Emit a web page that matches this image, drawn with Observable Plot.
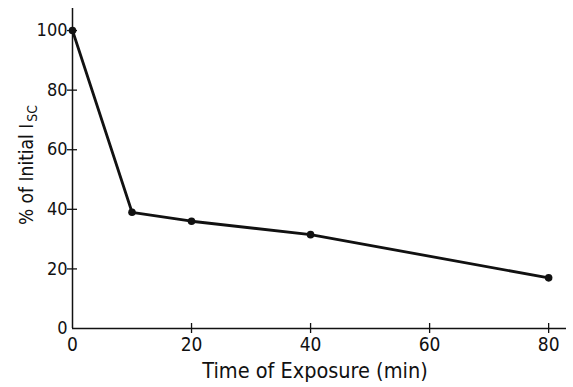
<!DOCTYPE html>
<html>
<head>
<meta charset="utf-8">
<script src="https://cdn.jsdelivr.net/npm/d3@7"></script>
<script src="https://cdn.jsdelivr.net/npm/@observablehq/plot@0.6"></script>
<style>
  html, body { margin: 0; padding: 0; background: #fff; }
  #chart svg { display: block; }
</style>
</head>
<body>
<div id="chart"></div>
<script>
const times = [0, 10, 20, 40, 80];
const percents = [100, 39, 36, 31.5, 17];
const xTickLabels = [0, 20, 40, 60, 80];
const xTickMarks = [20, 40, 60, 80];
const yTickLabels = [0, 20, 40, 60, 80, 100];
const yTickMarks = [20, 40, 60, 80, 100];
const xTitle = "Time of Exposure (min)";
const yTitleMain = "% of Initial I";
const yTitleSub = "SC";

const data = times.map((t, i) => ({t, p: percents[i]}));
const FONT = "'DejaVu Sans Condensed', 'Liberation Sans', sans-serif";

const plot = Plot.plot({
  width: 573,
  height: 387,
  marginLeft: 72,
  marginRight: 7,
  marginTop: 8,
  marginBottom: 59,
  style: {fontFamily: FONT, fontSize: "18px", color: "#111", background: "#fff"},
  x: {domain: [0, 83]},
  y: {domain: [0, 107.4]},
  marks: [
    Plot.ruleX([0], {strokeWidth: 1.5, stroke: "#111"}),
    Plot.ruleY([0], {strokeWidth: 1.5, stroke: "#111"}),
    Plot.axisY(yTickMarks, {tickSize: 10, dx: 5, tickFormat: () => "", label: null, strokeWidth: 1.3}),
    Plot.axisY(yTickLabels, {tickSize: 0, tickPadding: 5, label: null, fontSize: 18}),
    Plot.axisX(xTickMarks, {tickSize: 10, dy: -5, tickFormat: () => "", label: null, strokeWidth: 1.3}),
    Plot.axisX(xTickLabels, {tickSize: 0, tickPadding: 9, label: null, fontSize: 19}),
    Plot.line(data, {x: "t", y: "p", stroke: "#111", strokeWidth: 2.8}),
    Plot.dot(data, {x: "t", y: "p", r: 3.8, fill: "#111"})
  ]
});

const svg = d3.select(plot);
svg.append("text")
  .attr("x", 315)
  .attr("y", 378)
  .attr("text-anchor", "middle")
  .attr("font-family", FONT)
  .attr("font-size", 21.5)
  .attr("fill", "#111")
  .text(xTitle);

const yt = svg.append("text")
  .attr("transform", "translate(33,165) rotate(-90)")
  .attr("text-anchor", "middle")
  .attr("font-family", FONT)
  .attr("font-size", 19)
  .attr("fill", "#111");
yt.append("tspan").text(yTitleMain);
yt.append("tspan").attr("font-size", 14).attr("dy", 4).attr("dx", 2).text(yTitleSub);

document.getElementById("chart").appendChild(plot);
</script>
</body>
</html>
